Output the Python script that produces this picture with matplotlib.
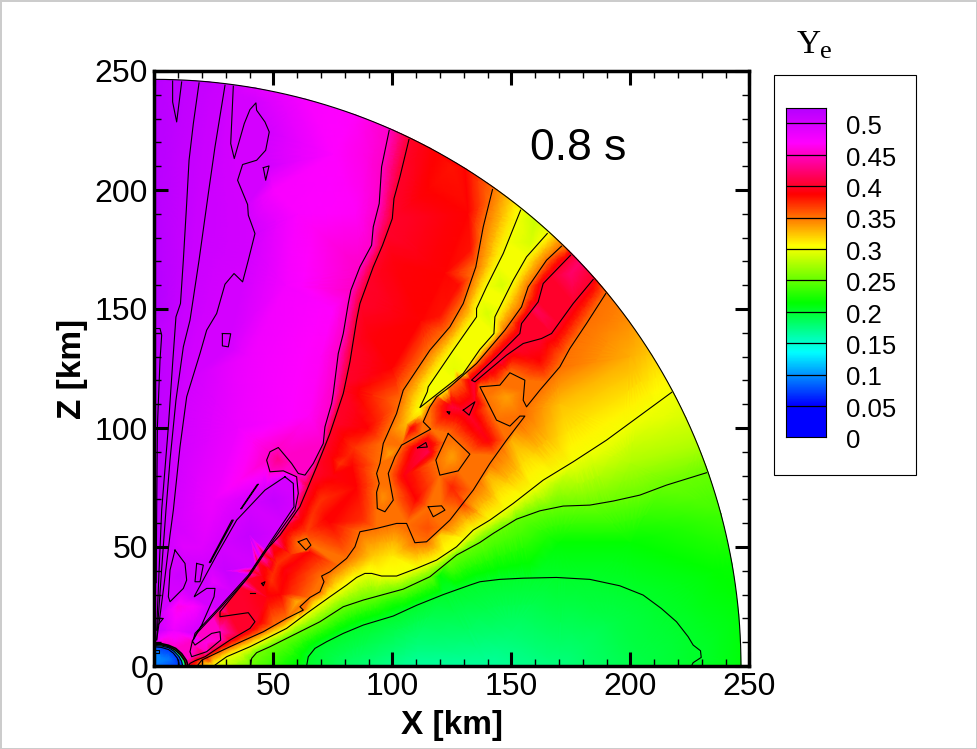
import numpy as np
import matplotlib
matplotlib.use('Agg')
import matplotlib.pyplot as plt
import matplotlib.tri as mtri
from matplotlib.colors import LinearSegmentedColormap
from matplotlib.ticker import MultipleLocator

# Ye contour lines, (x, z) in km
line_020 = [(64, 0), (64.7, 3.9), (67.5, 7.4), (72.4, 10.2), (79.4, 13.7), (87.8, 17.2), (100.4, 21), (110.2, 25.5),
            (121.4, 30), (132.6, 34), (136.8, 35.4), (145.2, 36.4), (155, 36.9), (169, 37.2), (183, 36.4),
            (195.6, 33.7), (205.4, 29.8), (213, 24.2), (219.4, 18.6), (224.3, 12.3), (226.4, 8.8), (229.5, 6.4),
            (229.8, 3.6), (226.4, 1.4), (225.7, 0)]
line_025 = [(40.5, 0), (40.9, 3.2), (43, 5.6), (48.6, 8.1), (58.4, 13), (69.6, 18.6), (79.4, 24.9), (87.8, 27.7),
            (104.6, 32.3), (115.8, 37.5), (127, 46.6), (136.8, 51.9), (142.4, 55.7), (152.2, 61.7), (162, 65.2),
            (171.8, 67.2), (183, 67.6), (192.8, 69.3), (204, 71.8), (215.2, 76), (232, 81.2)]
line_030 = [(25, 0), (27, 1.5), (30.4, 3.9), (40.2, 8.1), (48.6, 12.3), (55.6, 15.8), (64, 22.1), (73.8, 29.1),
            (80.8, 34), (85, 37.2), (88.5, 38.9), (91.3, 38.9), (95.5, 37.8), (101.8, 37.8), (110.2, 41),
            (118.6, 44.5), (127, 50.1), (134, 57.1), (141, 61.3), (150.8, 68.3), (163.4, 78.1), (176, 85.8),
            (190, 94.9), (217.4, 115)]
line_035 = [(18, 0), (20, 2.5), (31.8, 8.1), (45.8, 14.4), (55.6, 20), (62.6, 23.5), (61.2, 24.9), (65.4, 28.8),
            (69.6, 31.2), (71.3, 35.4), (70.3, 37.8), (73.8, 39.6), (80.8, 45.2), (84.3, 50.1), (86.4, 56.4),
            (93.4, 57.8), (101.8, 59.9), (106, 59.9), (109.5, 51.8), (114.4, 52.2), (124.2, 61.3), (134, 73.9),
            (141, 85.1), (148, 94.9), (155.7, 105), (153.6, 105), (149.4, 100.8), (143.8, 103.3), (141, 108.9),
            (136.8, 117.3), (145.2, 118), (149.4, 123.2), (155.7, 120.1), (155, 111.7), (156.4, 108.9),
            (162, 115.9), (170.4, 125.7), (174.6, 133.4), (181.6, 143.9), (189.7, 156.5)]
line_035b = [(142.1, 200.2), (138.2, 184.5), (135.1, 167.7), (129.8, 152.3), (124.2, 142.5), (115.8, 132.7),
             (104.6, 115.9), (101.8, 106.1), (96.2, 93.5), (94.8, 85.1), (93.4, 80.9), (94.5, 76.7), (93.4, 73),
             (93.7, 66.2), (96.9, 64.8), (100.4, 69.7), (98.3, 80.9), (101.1, 87.9), (103.9, 92.8), (116.1, 99.5),
             (113, 102.6), (115.8, 108.9), (118.6, 113.1), (124.2, 117.3), (135.4, 127.1), (147.3, 141.1),
             (154.3, 150.9), (157.1, 159.3), (164.8, 170.5), (171.1, 176.4)]
line_030b = [(153.9, 191.5), (146.6, 173.3), (139.6, 159.3), (135.4, 150.2), (135.4, 146.7), (125.6, 132.7),
             (115.1, 117.3), (114.7, 115.2), (111.6, 108.6), (129.8, 122.9), (136.8, 133), (142.7, 139.7),
             (143.1, 146.7), (147.3, 155.1), (150.8, 162.1), (156.4, 171.9), (165.1, 181.7)]
line_040 = [(107, 221.2), (103.2, 205.5), (100.7, 196.4), (100, 188), (95.9, 176.8), (92, 167.7), (86.4, 152.3),
            (85, 145.3), (83.2, 134.1), (82.2, 127.8), (79.4, 114.5), (73.8, 97.7), (68.2, 83.7), (61.2, 67),
            (52.8, 55), (45.8, 47.3), (38.8, 36.5), (27.6, 22.8), (27.6, 20.7), (39.5, 22.4), (42.3, 18.6),
            (40.2, 15.8), (31.8, 10.9), (21.3, 3.9), (17.1, 2.2), (15, 1.1), (14.3, 0)]
line_040b = [(174.9, 172.6), (163.4, 160.7), (161.3, 153), (154.3, 143.9), (153.6, 139.7), (143.8, 129.9),
             (133.3, 120.1), (134.7, 119.4), (148, 130.6), (155, 135.5), (162.7, 137.6), (166.9, 139.7),
             (176, 152.3), (184.4, 162.4)]
line_045 = [(98.7, 225.1), (95.5, 209.7), (94.5, 194.3), (92, 184.5), (91.3, 176.8), (86.4, 167.7), (82.6, 157.9),
            (81.5, 152.3), (79.4, 139.7), (77.3, 131.3), (75.2, 114.5), (74.5, 110.3), (71.7, 100.5), (71, 93.5),
            (66.8, 85.1), (63.3, 80.2), (60.5, 80.9), (57.7, 85.1), (52.1, 91.8), (48.6, 90), (47.2, 86.5),
            (48.6, 81.6), (54.2, 82), (59.8, 79.5), (60.5, 72.5), (59.1, 65.5), (50, 52.9), (40.2, 38.2),
            (27.6, 24.2), (17.8, 13.7), (16, 10.5), (17.1, 8.8), (24.1, 13.7), (27.6, 14.4), (27.9, 10.9),
            (22, 6), (15.7, 3.9), (15, 6), (16, 10.5)]
line_050 = [(33.2, 243.6), (32.1, 219.5), (33.6, 213.2), (37.8, 227.9), (40.2, 233.8), (42.7, 236.6), (43, 233.5),
            (46.5, 228.6), (48.3, 224.4), (46.8, 216.7), (43, 212.5), (37.1, 210.7), (35, 204.1), (39.2, 193.9),
            (39.5, 189.4), (42.3, 181.7), (39.5, 170.5), (37.1, 161.4), (33.5, 164.9), (29.7, 160.4), (26.2, 148.1),
            (22, 141.1), (19.2, 131.3), (13.6, 113.1), (10.8, 92.1), (8, 65.5), (6.6, 55), (4.2, 35), (2, 18), (1, 11)]
teardrop_050 = [(54.9, 79.5), (58.4, 76.7), (58.7, 66.9), (49.3, 52.9), (39.5, 38.2), (26.9, 24.2), (17.1, 13.7),
                (16.4, 11), (19.9, 17.2), (25.1, 29.1), (25.5, 32.6), (22, 32.6), (16.8, 29.1), (17.1, 29.8),
                (26.2, 46.6), (34.6, 61.3), (46.5, 73.9), (54.9, 79.5)]
line_b = [(29.7, 244), (25.5, 218.1), (22.7, 198.5), (18.8, 170.5), (15, 145.3), (12.2, 134.1), (9.1, 111.7),
          (6.6, 86.5), (4.9, 65.5), (3.4, 45), (2, 25), (1, 11)]
line_a = [(18.8, 245), (16.4, 227.9), (14.6, 212.5), (13.6, 194.3), (12.2, 170.5), (11, 152.3), (9.1, 146.7),
          (7.7, 127.1), (5.9, 100.5), (3.1, 65.5), (2, 40), (1, 15)]
line_d = [(0.7, 141.8), (2.4, 141.8), (3.1, 139), (2.4, 128.5), (1.3, 100.5), (1, 65.5), (0.8, 35)]
wedge_top = [(7.7, 245.8), (7.7, 237), (9.4, 228.6), (11.5, 245.4)]

# small closed patches
isle_big = [(123.5, 97.7), (132.6, 89), (127.7, 82), (120, 80.2), (118.3, 86.5), (123.5, 97.7)]
isle_low = [(115.1, 66.9), (120.7, 67.3), (122.1, 65.5), (117.2, 62.7), (115.1, 66.9)]
isle_left = [(60.5, 52.2), (64, 53.6), (65.8, 50.8), (63.7, 48.7), (60.5, 52.2)]
tri_a = [(129.8, 107.5), (134.7, 111), (132.3, 105.4), (129.8, 107.5)]
tri_b = [(110.6, 91.7), (114.1, 93.9), (114.7, 92), (110.6, 91.7)]
dot_a = [(123.1, 106.8), (124.2, 106.8), (123.9, 105.8), (123.1, 106.8)]
dot_b = [(45.1, 34.7), (46.5, 35.4), (45.8, 33.7), (45.1, 34.7)]
dash_a = [(40.2, 30.8), (42.3, 30.8)]
dash_b = [(0.3, 20), (3.8, 20), (1.5, 17.2)]
poly_a = [(45.8, 209.4), (48.2, 210.1), (46.8, 204.1), (45.8, 209.4)]
poly_b = [(28.6, 139.7), (32.1, 139.6), (31.1, 134.1), (28.6, 134.5), (28.6, 139.7)]
poly_c = [(8.7, 48.7), (12.9, 43.1), (13.6, 36.1), (12.2, 32.6), (6.6, 27), (5.9, 29.1), (6.6, 40.3), (8.7, 48.7)]
poly_d = [(17.8, 43.1), (20.6, 42.4), (19.2, 35.4), (17.1, 35.4), (17.8, 43.1)]
poly_e = [(0.7, 6.7), (2.1, 6.7), (2.1, 5.3), (0.7, 5.3)]
sliver_a = [(36.7, 66.2), (43.7, 76.4), (43.2, 76.2), (36.3, 66), (36.7, 66.2)]
sliver_b = [(23.7, 43.8), (33.2, 61.3), (32.6, 61.3), (23.1, 43.4), (23.7, 43.8)]

# rings round the central object
ring_a = [(0, 9.6), (3, 9.4), (6, 8.7), (9, 7.4), (11.5, 5.2), (13.5, 2.3), (14.2, 0)]
ring_b = [(0, 9.1), (3, 8.9), (6, 8.2), (8.7, 6.8), (11, 4.7), (12.7, 2.3), (13.3, 0)]
ring_c = [(0, 8.6), (3, 8.4), (6, 7.7), (8.3, 6.2), (10.3, 4.1), (11.5, 2), (11.9, 0)]
ring_d = [(0, 8.1), (3, 7.8), (6, 6.9), (8, 5.4), (9.6, 3.4), (10.3, 1.5), (10.5, 0)]

# lines with the Ye each one stands for
levels_lines = [(line_020, 0.2), (line_025, 0.25), (line_030, 0.3), (line_030b, 0.3), (line_035, 0.35),
                (line_035b, 0.35), (line_040, 0.4), (line_040b, 0.4), (line_045, 0.45), (line_050, 0.5),
                (teardrop_050, 0.5), (line_b, 0.505), (line_a, 0.51), (line_d, 0.515), (wedge_top, 0.515),
                (isle_big, 0.35), (isle_low, 0.35), (isle_left, 0.35), (tri_a, 0.4), (tri_b, 0.4),
                (poly_a, 0.5), (poly_b, 0.5), (poly_c, 0.5), (poly_d, 0.5), (ring_a, 0.45), (ring_b, 0.3),
                (ring_c, 0.08), (ring_d, 0.07)]
thin_marks = [dot_a, dot_b, dash_a, dash_b, sliver_a, sliver_b, poly_e]

# Ye along the outer edge
radius = 246.5
edge_theta = [0, 5, 10, 15, 19.3, 22, 25, 28, 32, 36, 39.5, 41, 42.3, 43.5, 44.6, 45.5, 47, 47.7, 49.5, 51.2, 53, 54.6,
              58, 62, 64.3, 66, 66.3, 70, 75, 80, 85, 90]
edge_ye = [0.21, 0.21, 0.215, 0.235, 0.25, 0.275, 0.29, 0.3, 0.32, 0.34, 0.35, 0.38, 0.405, 0.42, 0.4, 0.35, 0.32, 0.3,
           0.285, 0.3, 0.325, 0.35, 0.385, 0.388, 0.4, 0.44, 0.45, 0.466, 0.472, 0.49, 0.51, 0.522]

# Ye at single spots between the lines, (x, z, Ye)
spots_green = [(85, 0, 0.18), (110, 0, 0.165), (140, 0, 0.165), (170, 0, 0.175), (200, 0, 0.19), (110, 12, 0.18),
               (150, 15, 0.18), (190, 18, 0.19), (100, 27, 0.225), (120, 38, 0.213), (170, 52, 0.213), (200, 52, 0.213),
               (235, 40, 0.213)]
spots_yellow = [(150, 62, 0.27), (170, 76, 0.275), (200, 85, 0.275), (170, 110, 0.325), (200, 130, 0.33),
                (150, 95, 0.33), (140, 80, 0.33), (120, 55, 0.32), (100, 46, 0.31), (92, 46, 0.32), (80, 38, 0.32),
                (60, 27, 0.33), (158, 178, 0.29), (146, 160, 0.29), (140, 148, 0.29), (126, 125, 0.295),
                (117, 113, 0.3), (20, 0, 0.33)]
spots_red = [(53, 30, 0.385), (47, 29, 0.39), (50, 39, 0.37), (57, 47, 0.37), (64, 56, 0.365), (70, 70, 0.37),
             (67, 65, 0.37), (74, 60, 0.385), (88, 61, 0.37), (84, 92, 0.37), (81, 88, 0.375), (78, 85, 0.37),
             (62, 56.4, 0.37), (51.4, 43, 0.37), (49.3, 36, 0.37), (57.7, 30.5, 0.372), (61, 62, 0.392),
             (55, 40, 0.39), (45, 38, 0.392), (72, 62, 0.385), (65, 48, 0.385), (74, 88, 0.39), (83, 84, 0.385),
             (75, 80, 0.39), (85, 75, 0.385), (132, 190, 0.385), (133, 175, 0.38), (128, 160, 0.382), (120, 147, 0.38),
             (122, 165, 0.385), (112, 145, 0.385), (100, 125, 0.385), (90, 100, 0.385), (90, 140, 0.39),
             (100, 170, 0.39), (115, 200, 0.385), (125, 210, 0.38), (162, 128, 0.385)]
spots_core = [(105, 80, 0.39), (110, 70, 0.385), (108, 100, 0.39), (125, 109, 0.405), (137, 99, 0.395), (115, 90, 0.41),
              (140, 95, 0.39), (125, 75, 0.375), (115, 58, 0.36), (130, 68, 0.365), (125, 88, 0.335), (148, 113, 0.335),
              (118, 65, 0.345), (96, 71, 0.34), (106, 102, 0.325), (99, 89, 0.335), (112, 106, 0.31),
              (160, 150, 0.415), (175, 165, 0.42), (145, 128, 0.41)]
spots_magenta = [(70, 130, 0.465), (65, 105, 0.465), (75, 150, 0.467), (85, 190, 0.465), (88, 215, 0.46),
                 (75, 215, 0.468), (60, 190, 0.47), (50, 200, 0.472), (55, 160, 0.475), (40, 130, 0.478), (35, 100, 0.48),
                 (25, 70, 0.48), (52, 87, 0.43), (40, 55, 0.51), (50, 70, 0.51), (30, 40, 0.508),
                 (10, 25, 0.46), (17, 25, 0.47), (12, 50, 0.49), (20, 50, 0.49), (25, 35, 0.485), (8, 15, 0.48),
                 (10, 38, 0.505), (22, 10, 0.46)]
spots_axis = [(0, 245, 0.52), (0, 200, 0.52), (0, 150, 0.522), (0, 100, 0.52), (0, 60, 0.515), (0, 30, 0.49),
              (0, 15, 0.475), (0, 11.5, 0.46)]
spots_core_blue = [(0, 0, 0.09), (3, 3, 0.095), (6, 3, 0.09), (0, 6, 0.095), (9, 1, 0.075)]
spot_groups = [spots_green, spots_yellow, spots_red, spots_core, spots_magenta, spots_axis, spots_core_blue]

# colour bar
bar_levels = [0.05, 0.1, 0.15, 0.2, 0.25, 0.3, 0.35, 0.4, 0.45, 0.5]
bar_labels = ['0.5', '0.45', '0.4', '0.35', '0.3', '0.25', '0.2', '0.15', '0.1', '0.05', '0']
bar_values = [0.5, 0.45, 0.4, 0.35, 0.3, 0.25, 0.2, 0.15, 0.1, 0.05, 0]
bar_top = 0.524
cmap_nodes = [0, 0.05, 0.134, 0.213, 0.304, 0.386, 0.468, 0.524]
cmap_colors = ['#0000ff', '#0000ff', '#00ffff', '#00ff00', '#ffff00', '#ff0000', '#ff00ff', '#b400ff']

plt.rcParams['font.family'] = ['Liberation Sans', 'DejaVu Sans']


def split_line(points, step=4.0):
    # extra points along a read line, so the triangles follow it
    xs, zs = [], []
    for (x0, z0), (x1, z1) in zip(points[:-1], points[1:]):
        n = max(int(np.hypot(x1 - x0, z1 - z0) / step), 1)
        for k in range(n):
            xs.append(x0 + (x1 - x0) * k / n)
            zs.append(z0 + (z1 - z0) * k / n)
    xs.append(points[-1][0])
    zs.append(points[-1][1])
    return xs, zs


def draw_line(ax, points, lw=0.8):
    pts = np.array(points)
    ax.plot(pts[:, 0], pts[:, 1], color='k', lw=lw, solid_joinstyle='round', zorder=3)


fx, fz, fy = [], [], []
for points, level in levels_lines:
    xs, zs = split_line(points)
    fx += xs
    fz += zs
    fy += [level] * len(xs)
for group in spot_groups:
    for x, z, ye in group:
        fx.append(x)
        fz.append(z)
        fy.append(ye)
t = np.radians(edge_theta)
fx += list(radius * np.cos(t))
fz += list(radius * np.sin(t))
fy += edge_ye

table = np.unique(np.round(np.column_stack([fx, fz]), 2), axis=0, return_index=True)
field_x = table[0][:, 0]
field_z = table[0][:, 1]
field_y = np.array(fy)[table[1]]

triang = mtri.Triangulation(field_x, field_z)
refiner = mtri.UniformTriRefiner(triang)
interp = mtri.LinearTriInterpolator(triang, field_y)
fine_tri, fine_y = refiner.refine_field(field_y, triinterpolator=interp, subdiv=2)

norm_nodes = np.array(cmap_nodes) / bar_top
ye_cmap = LinearSegmentedColormap.from_list('ye', list(zip(norm_nodes, cmap_colors)), N=512)

fig = plt.figure(figsize=(9.77, 7.49), dpi=100, edgecolor='#cccccc', linewidth=2)
ax = fig.add_axes([154.3 / 977, 1 - 666 / 749, 595 / 977, 595 / 749])
ax.tripcolor(fine_tri, fine_y, shading='gouraud', cmap=ye_cmap, vmin=0, vmax=bar_top, zorder=1)

for points, level in levels_lines:
    draw_line(ax, points, lw=1.2 if points in (ring_a, ring_b) else 0.8)
for points in thin_marks:
    draw_line(ax, points)
arc = np.radians(np.linspace(0, 90, 181))
ax.plot(radius * np.cos(arc), radius * np.sin(arc), color='k', lw=0.8, zorder=3)

ax.set_xlim(0, 250)
ax.set_ylim(0, 250)
ax.xaxis.set_major_locator(MultipleLocator(50))
ax.yaxis.set_major_locator(MultipleLocator(50))
ax.xaxis.set_minor_locator(MultipleLocator(10))
ax.yaxis.set_minor_locator(MultipleLocator(10))
ax.tick_params(which='major', direction='in', top=True, right=True, length=10, width=2.2, labelsize=23)
ax.tick_params(which='minor', direction='in', top=True, right=True, length=5, width=1)
ax.tick_params(axis='x', pad=4)
ax.tick_params(axis='y', pad=4.5)
for spine in ax.spines.values():
    spine.set_linewidth(2.5)
    spine.set_zorder(5)
ax.set_xlabel('X [km]', fontsize=24, fontweight='bold', labelpad=6)
ax.set_ylabel('Z [km]', fontsize=24, fontweight='bold', labelpad=5)
ax.text(158, 217.5, '0.8 s', fontsize=32, va='center', ha='left')

# legend box and bar
box = plt.Rectangle((774 / 977, 1 - 475 / 749), 142 / 977, 400 / 749, transform=fig.transFigure,
                    facecolor='white', edgecolor='k', lw=0.8, zorder=-1)
fig.add_artist(box)
cax = fig.add_axes([786 / 977, 1 - 437.3 / 749, 39.7 / 977, 329 / 749])
ramp = np.linspace(0, bar_top, 400).reshape(-1, 1)
cax.imshow(ramp, origin='lower', aspect='auto', extent=[0, 1, 0, bar_top], cmap=ye_cmap, vmin=0, vmax=bar_top)
for level in bar_levels:
    cax.axhline(level, color='k', lw=0.9)
cax.set_xticks([])
cax.set_yticks([])
for spine in cax.spines.values():
    spine.set_linewidth(0.8)
for label, value in zip(bar_labels, bar_values):
    cax.text(1.52, value - 0.0062, label, fontsize=18.5, va='center', ha='left', clip_on=False)

fig.text(797 / 977, 1 - 53 / 749, 'Y', family='Liberation Serif', fontsize=24, va='baseline', ha='left')
fig.text(820 / 977, 1 - 58 / 749, 'e', family='Liberation Serif', fontsize=19, va='baseline', ha='left')

fig.savefig('out.png', dpi=100)
